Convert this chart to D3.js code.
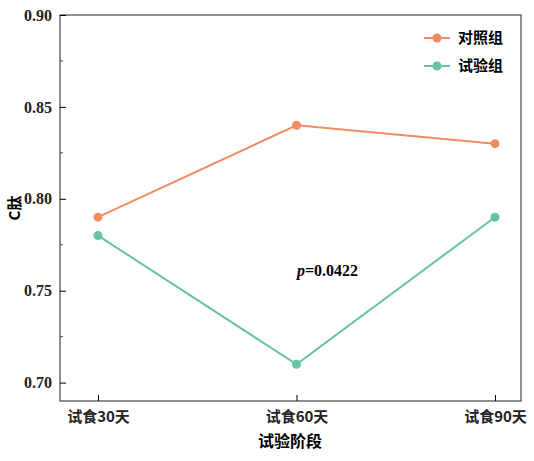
<!DOCTYPE html><html><head><meta charset="utf-8"><script src="https://d3js.org/d3.v7.min.js"></script>
<style>body{margin:0;background:#fff}</style></head><body><svg width="534" height="461"></svg><script>
const categories=["试食30天","试食60天","试食90天"];
const control=[0.79,0.84,0.83];
const trial=[0.78,0.71,0.79];
const yTicks=[0.70,0.75,0.80,0.85,0.90];
const seriesNames=["对照组","试验组"];
const colors=["#F08C5F","#66C3A0"];
const svg=d3.select("svg");
const L=60,R=521,T=15,B=401;
const x=d3.scalePoint().domain(categories).range([98,495]);
const y=d3.scaleLinear().domain([0.69,0.90]).range([B,T]);
svg.append("rect").attr("x",L).attr("y",T).attr("width",R-L).attr("height",B-T).attr("fill","none").attr("stroke","#444").attr("stroke-width",1.2);
const yg=svg.append("g").attr("transform",`translate(${L},0)`).call(d3.axisLeft(y).tickValues(yTicks).tickSizeInner(-6).tickSizeOuter(0).tickPadding(8).tickFormat(d3.format(".2f")));
yg.select(".domain").remove();
yg.selectAll("text").style("font-family","'Liberation Serif', serif").style("font-weight","bold").style("font-size","16px").attr("fill","#222");
svg.append("g").selectAll("line").data([0.725,0.775,0.825,0.875]).join("line").attr("x1",L).attr("x2",L+3).attr("y1",d=>y(d)).attr("y2",d=>y(d)).attr("stroke","#444");
const xg=svg.append("g").attr("transform",`translate(0,${B})`).call(d3.axisBottom(x).tickSizeInner(-6).tickSizeOuter(0).tickPadding(10));
xg.select(".domain").remove();
xg.selectAll("text").style("font-family","'Noto Sans CJK SC'").style("font-weight","bold").style("font-size","15px").attr("fill","#222");
svg.append("text").attr("x",290).attr("y",447).attr("text-anchor","middle").attr("font-family","Noto Sans CJK SC").attr("font-weight","bold").attr("font-size",16).text("试验阶段");
svg.append("text").attr("transform","translate(20,208) rotate(-90)").attr("text-anchor","middle").attr("font-family","Noto Sans CJK SC").attr("font-weight","bold").attr("font-size",15).text("C肽");
[control,trial].forEach((s,i)=>{
 svg.append("path").datum(s).attr("fill","none").attr("stroke",colors[i]).attr("stroke-width",2).attr("d",d3.line().x((d,j)=>x(categories[j])).y(d=>y(d)));
 svg.selectAll(null).data(s).join("circle").attr("cx",(d,j)=>x(categories[j])).attr("cy",d=>y(d)).attr("r",4.5).attr("fill",colors[i]);
 const ly=38+i*28;
 svg.append("line").attr("x1",424).attr("x2",450).attr("y1",ly).attr("y2",ly).attr("stroke",colors[i]).attr("stroke-width",2);
 svg.append("circle").attr("cx",437).attr("cy",ly).attr("r",4.5).attr("fill",colors[i]);
 svg.append("text").attr("x",458).attr("y",ly+5).attr("font-family","Noto Sans CJK SC").attr("font-weight","bold").attr("font-size",15).text(seriesNames[i]);
});
const t=svg.append("text").attr("x",297).attr("y",276).attr("font-family","Liberation Serif").attr("font-weight","bold").attr("font-size",16);
t.append("tspan").attr("font-style","italic").text("p");
t.append("tspan").text("=0.0422");
</script></body></html>
